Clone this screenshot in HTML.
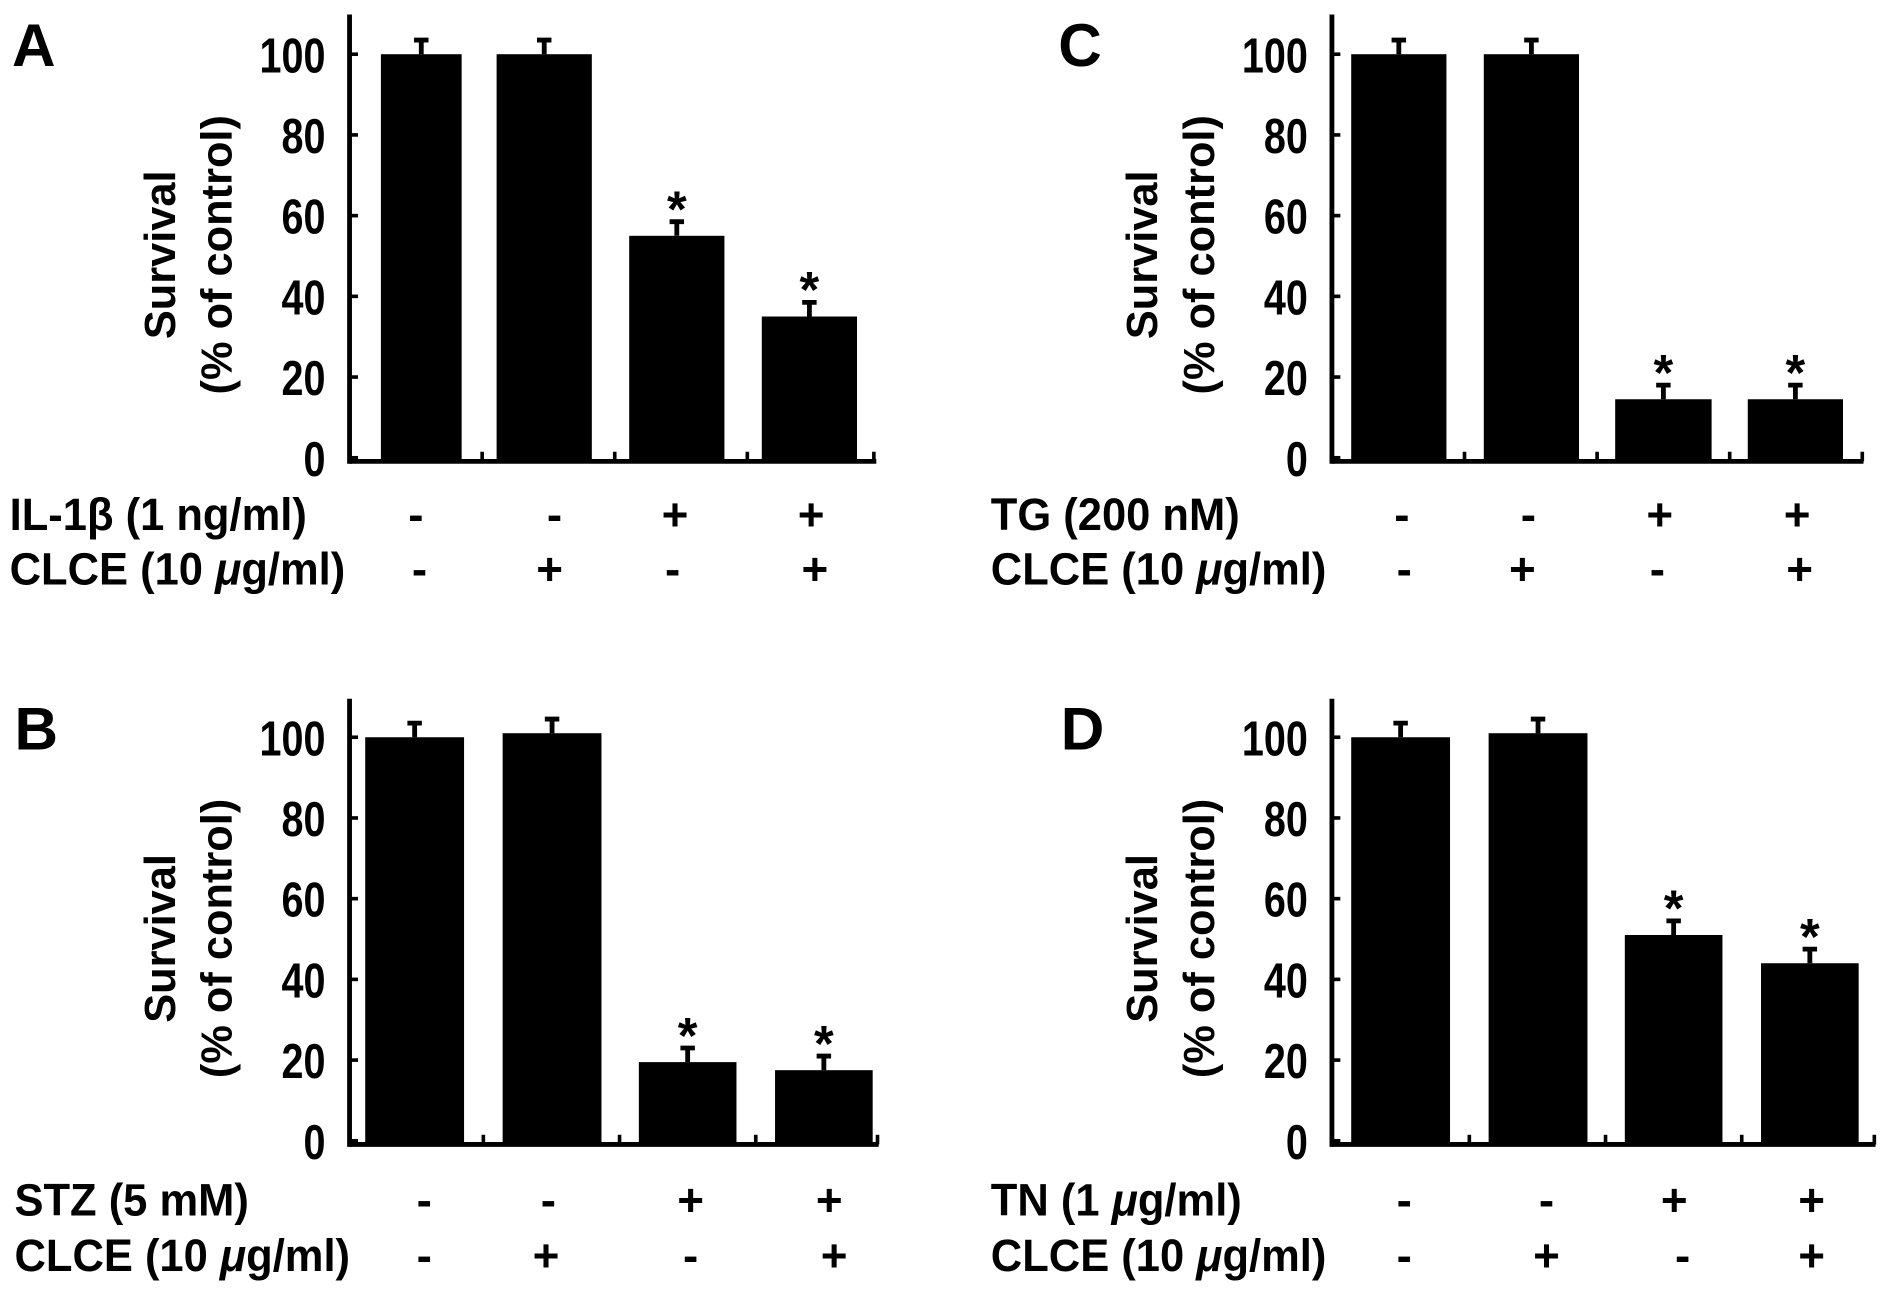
<!DOCTYPE html>
<html><head><meta charset="utf-8"><style>
html,body{margin:0;padding:0;background:#fff;}
svg{display:block;}
text{font-family:"Liberation Sans",sans-serif;font-weight:bold;fill:#000;}
</style></head><body>
<svg id="fig" width="1890" height="1295" viewBox="0 0 1568 1075" preserveAspectRatio="none" xmlns="http://www.w3.org/2000/svg"></svg>
<script>
const panelLetters = ["A","B","C","D"];
const valuesA = [100, 100, 55, 35];
const valuesB = [100, 101, 19.5, 17.5];
const valuesC = [100, 100, 14.5, 14.5];
const valuesD = [100, 101, 51, 44];
const errorsA = [3.5, 3.5, 3.5, 3.5];
const errorsB = [3.5, 3.5, 3.5, 3.5];
const errorsC = [3.5, 3.5, 3.5, 3.5];
const errorsD = [3.5, 3.5, 3.5, 3.5];
const starsA = [false, false, true, true];
const starsB = [false, false, true, true];
const starsC = [false, false, true, true];
const starsD = [false, false, true, true];
const row1Pre = ["IL-1\u03b2 (1 ng/ml)", "STZ (5 mM)", "TG (200 nM)", "TN (1 "];
const row1Mu = [false, false, false, true];
const row1Signs = ["-", "-", "+", "+"];
const row2Signs = ["-", "+", "-", "+"];
const yTicks = [0, 20, 40, 60, 80, 100];

const NS = "http://www.w3.org/2000/svg";
const svg = document.getElementById("fig");
function el(tag, attrs, parent, txt) {
  const e = document.createElementNS(NS, tag);
  for (const k in attrs) e.setAttribute(k, attrs[k]);
  if (txt !== undefined) e.textContent = txt;
  (parent || svg).appendChild(e);
  return e;
}

const layouts = [
  {ax:290, top:12, base:383, right:726, bars:[[316,383],[412,491],[522,601],[632,711]], ticks:[400,510,620,725], letterX:10, letterY:55, r1y:440, r2y:485, labX:8, s1:[345,460,560,673], s2:[348,456,558,676]},
  {ax:290, top:580, base:950, right:728, bars:[[303,385],[417,499],[530,611],[643,724]], ticks:[401,514,627,728], letterX:12, letterY:622, r1y:1009, r2y:1055, labX:12, s1:[352,455,573,688], s2:[352,453,573,692]},
  {ax:1105, top:12, base:383, right:1545, bars:[[1121,1200],[1231,1310],[1340,1420],[1450,1529]], ticks:[1215,1325,1435,1545], letterX:878, letterY:55, r1y:440, r2y:485, labX:822, s1:[1163,1268,1377,1491], s2:[1165,1263,1375,1493]},
  {ax:1105, top:580, base:950, right:1555, bars:[[1121,1203],[1235,1317],[1348,1429],[1461,1542]], ticks:[1219,1332,1445,1555], letterX:880, letterY:622, r1y:1009, r2y:1055, labX:822, s1:[1165,1283,1389,1503], s2:[1165,1283,1396,1503]}
];
const allValues = [valuesA, valuesB, valuesC, valuesD];
const allErrors = [errorsA, errorsB, errorsC, errorsD];
const allStars = [starsA, starsB, starsC, starsD];

layouts.forEach((L, p) => {
  const g = el("g", {});
  
  
  const y0 = L.base - 3, y100 = L.base - 3 - 335;
  const yScale = v => y0 + (y100 - y0) * v / 100;
  const lt = el("text", {x:L.letterX, y:L.letterY, "font-size":50}, g, panelLetters[p]);
  
  
  const ya = el("line", {x1:L.ax, y1:L.top, x2:L.ax, y2:L.base+2, stroke:"#000", "stroke-width":4}, g);
  
  
  const xa = el("line", {x1:L.ax, y1:L.base, x2:L.right+1, y2:L.base, stroke:"#000", "stroke-width":4}, g);
  
  
  L.ticks.forEach(tx => {
    const t = el("line", {x1:tx, y1:L.base, x2:tx, y2:L.base-8, stroke:"#000", "stroke-width":3}, g);
    
    
  });
  yTicks.forEach(v => {
    const yy = yScale(v);
    const tk = el("line", {x1:L.ax, y1:yy, x2:L.ax+7, y2:yy, stroke:"#000", "stroke-width":3}, g);
    
    
    const tl = el("text", {x:0, y:0, "font-size":41, "text-anchor":"end", transform:`translate(${L.ax-20},${yy+15}) scale(0.8,1)`}, g, String(v));
    
    
  });
  const cy = (L.top + L.base) / 2 + 14;
  const t1 = el("text", {x:0, y:0, "font-size":36, "text-anchor":"middle", transform:`translate(${L.ax-145},${cy}) rotate(-90)`}, g, "Survival");
  
  
  const t2 = el("text", {x:0, y:0, "font-size":36, "text-anchor":"middle", transform:`translate(${L.ax-98},${cy}) rotate(-90)`}, g, "(% of control)");
  
  
  const vals = allValues[p], errs = allErrors[p], stars = allStars[p];
  vals.forEach((v, i) => {
    const [x1, x2] = L.bars[i];
    const yt = yScale(v);
    const b = el("rect", {x:x1, y:yt, width:x2-x1, height:L.base-yt, fill:"#000"}, g);
    
    
    const cx = (x1 + x2) / 2;
    const ye = yScale(v + errs[i]);
    const e = el("path", {d:`M${cx} ${yt} V${ye} M${cx-6} ${ye} H${cx+6}`, stroke:"#000", "stroke-width":4, fill:"none"}, g);
    
    
    if (stars[i]) {
      const s = el("text", {x:cx, y:ye+4, "font-size":42, "text-anchor":"middle"}, g, "*");
      
      
    }
  });
  const r1 = el("text", {x:0, y:0, "font-size":38, transform:`translate(${L.labX},${L.r1y}) scale(0.95,1)`}, g);
  
  
  r1.appendChild(document.createTextNode(row1Pre[p]));
  if (row1Mu[p]) {
    el("tspan", {"font-style":"italic"}, r1, "\u03bc");
    r1.appendChild(document.createTextNode("g/ml)"));
  }
  const r2 = el("text", {x:0, y:0, "font-size":38, transform:`translate(${L.labX},${L.r2y}) scale(0.95,1)`}, g);
  
  
  r2.appendChild(document.createTextNode("CLCE (10 "));
  el("tspan", {"font-style":"italic"}, r2, "\u03bc");
  r2.appendChild(document.createTextNode("g/ml)"));
  row1Signs.forEach((s, i) => {
    const t = el("text", {x:L.s1[i], y:L.r1y, "font-size":38, "text-anchor":"middle"}, g, s);
    
    
  });
  row2Signs.forEach((s, i) => {
    const t = el("text", {x:L.s2[i], y:L.r2y, "font-size":38, "text-anchor":"middle"}, g, s);
    
    
  });
});
</script>
</body></html>
